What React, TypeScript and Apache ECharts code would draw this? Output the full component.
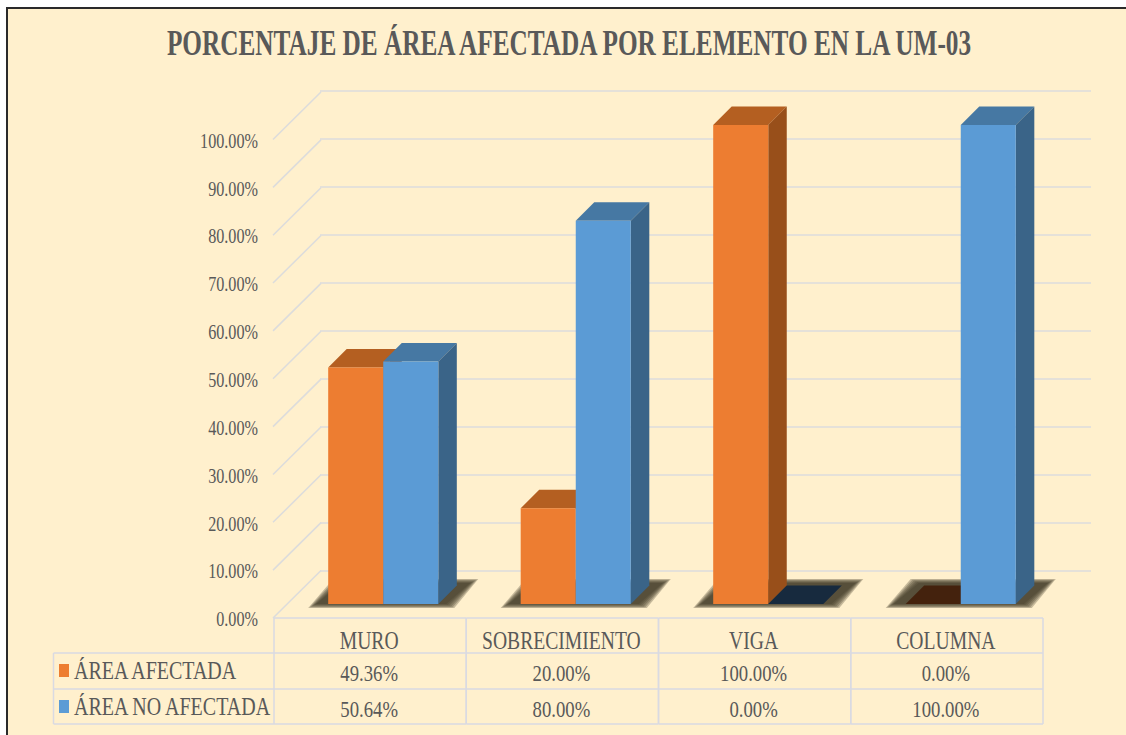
import React, { useEffect, useRef } from "react";
import * as echarts from "echarts";

const chartTitle = "PORCENTAJE DE ÁREA AFECTADA POR ELEMENTO EN LA UM-03";
const categories = ["MURO", "SOBRECIMIENTO", "VIGA", "COLUMNA"];
const seriesNames = ["ÁREA AFECTADA", "ÁREA NO AFECTADA"];
const affected = [49.36, 20, 100, 0];
const unaffected = [50.64, 80, 0, 100];
const yTicks = [0, 10, 20, 30, 40, 50, 60, 70, 80, 90, 100];
const shadowLayers = [4, 3.2, 2.4, 1.6, 0.8, 0];

const ORANGE = { front: "#ED7D31", top: "#B45F21", side: "#984F1A", zero: "#44220D" };
const BLUE = { front: "#5B9BD5", top: "#4678A3", side: "#3A6488", zero: "#172A3E" };
const TEXT = "#595959";
const LINE = "#DCDCDC";
const TABLE = "#D9DAE2";
const FONT = '"Liberation Serif"';
const DEPTH = 18.5;
const WALL = 47;

const pct = (v: number) => v.toFixed(2) + "%";
const label = (text: string, x: number, y: number, size: number, scaleX: number, align = "center") => ({
  type: "text",
  x,
  y,
  scaleX,
  silent: true,
  style: { text, x: 0, y: 0, fill: TEXT, font: `${size}px ${FONT}`, align, verticalAlign: "middle" },
});
const poly = (points: number[][], fill: string) => ({
  type: "polygon",
  shape: { points },
  style: { fill },
  silent: true,
});

function barSeries(values: number[], pal: typeof ORANGE, side: number) {
  return {
    type: "custom",
    xAxisIndex: 1,
    yAxisIndex: 1,
    data: values.map((v, i) => [i, v]),
    encode: { x: 0, y: 1 },
    renderItem: (_: any, api: any) => {
      const i = api.value(0);
      const v = api.value(1);
      const top = api.coord([i, v]);
      const base = api.coord([i, 0]);
      const w = api.size([1, 0])[0] * 0.286;
      const l = side < 0 ? top[0] - w : top[0];
      const r = l + w;
      if (v === 0) {
        return { type: "group", children: [poly([[l, base[1]], [r, base[1]], [r + DEPTH, base[1] - DEPTH], [l + DEPTH, base[1] - DEPTH]], pal.zero)] };
      }
      return {
        type: "group",
        children: [
          poly([[l, top[1]], [r, top[1]], [r + DEPTH, top[1] - DEPTH], [l + DEPTH, top[1] - DEPTH]], pal.top),
          poly([[r, top[1]], [r + DEPTH, top[1] - DEPTH], [r + DEPTH, base[1] - DEPTH], [r, base[1]]], pal.side),
          poly([[l, top[1]], [r, top[1]], [r, base[1]], [l, base[1]]], pal.front),
        ],
      };
    },
  };
}

export default function App() {
  const ref = useRef<HTMLDivElement>(null);
  useEffect(() => {
    const chart = echarts.init(ref.current!, undefined, { renderer: "svg" });
    const hiddenX = (gridIndex: number) => ({ type: "category", gridIndex, data: categories, show: false });
    const hiddenY = (gridIndex: number) => ({ type: "value", gridIndex, min: 0, max: 100, interval: 10, show: false });
    chart.setOption({
      animation: false,
      backgroundColor: "transparent",
      tooltip: { show: false },
      grid: [
        { left: 320, top: 91, width: 771, height: 479.5 },
        { left: 287, top: 125, width: 770, height: 479 },
        { left: 274, top: 139.5, width: 769, height: 478.5 },
      ],
      xAxis: [hiddenX(0), hiddenX(1), hiddenX(2)],
      yAxis: [
        {
          type: "value",
          gridIndex: 0,
          min: 0,
          max: 100,
          interval: 10,
          axisLabel: { show: false },
          axisLine: { show: false },
          axisTick: { show: false },
          splitLine: { show: true, lineStyle: { color: LINE, width: 1.5 } },
        },
        hiddenY(1),
        hiddenY(2),
      ],
      graphic: [
        {
          type: "text",
          x: 569,
          y: 44,
          scaleX: 0.722,
          style: { text: chartTitle, fill: TEXT, font: `bold 35px ${FONT}`, align: "center", verticalAlign: "middle" },
        },
        { type: "rect", x: 59, y: 664, shape: { width: 10, height: 13 }, style: { fill: ORANGE.front } },
        { type: "rect", x: 59, y: 700, shape: { width: 10, height: 13 }, style: { fill: BLUE.front } },
        {
          type: "text", x: 74, y: 671, scaleX: 0.8,
          style: { text: seriesNames[0], fill: TEXT, font: `25px ${FONT}`, align: "left", verticalAlign: "middle" },
        },
        {
          type: "text", x: 74, y: 707, scaleX: 0.8,
          style: { text: seriesNames[1], fill: TEXT, font: `25px ${FONT}`, align: "left", verticalAlign: "middle" },
        },
        ...[653, 689, 724].map((y) => ({
          type: "line",
          shape: { x1: 53.5, y1: y, x2: 274, y2: y },
          style: { stroke: TABLE, lineWidth: 1.5 },
        })),
        { type: "line", shape: { x1: 53.5, y1: 653, x2: 53.5, y2: 724 }, style: { stroke: TABLE, lineWidth: 1.5 } },
      ],
      series: [
        // side wall diagonals and value labels on the front plane
        {
          type: "custom",
          xAxisIndex: 2,
          yAxisIndex: 2,
          data: yTicks.map((t) => [0, t]),
          encode: { x: 0, y: 1 },
          renderItem: (_: any, api: any) => {
            const t = api.value(1);
            const p = api.coord([0, t]);
            const x0 = p[0] - api.size([1, 0])[0] / 2;
            return {
              type: "group",
              children: [
                {
                  type: "line",
                  silent: true,
                  shape: { x1: x0 - 1, y1: p[1], x2: x0 + WALL, y2: p[1] - WALL - 0.5 },
                  style: { stroke: LINE, lineWidth: 1.5 },
                },
                label(pct(t), x0 - 16, p[1] + 1, 21, 0.77, "right"),
              ],
            };
          },
        },
        // data table cells, aligned on the category axis
        {
          type: "custom",
          xAxisIndex: 2,
          yAxisIndex: 2,
          data: categories.map((_, i) => [i, 0]),
          encode: { x: 0, y: 1 },
          renderItem: (_: any, api: any) => {
            const i = api.value(0);
            const p = api.coord([i, 0]);
            const band = api.size([1, 0])[0];
            const l = p[0] - band / 2;
            const r = p[0] + band / 2;
            const ln = (x1: number, y1: number, x2: number, y2: number) => ({
              type: "line",
              silent: true,
              shape: { x1, y1, x2, y2 },
              style: { stroke: TABLE, lineWidth: 1.5 },
            });
            return {
              type: "group",
              children: [
                ln(l, p[1], r, p[1]),
                ln(l, 653, r, 653),
                ln(l, 689, r, 689),
                ln(l, 724, r, 724),
                ln(l, p[1], l, 724),
                ln(r, p[1], r, 724),
                label(categories[i], p[0] - 1, 641, 25, 0.785),
                label(pct(affected[i]), p[0] - 1, 673, 24, 0.78),
                label(pct(unaffected[i]), p[0] - 1, 709, 24, 0.78),
              ],
            };
          },
        },
        // soft contact shadows under each bar pair
        {
          type: "custom",
          xAxisIndex: 1,
          yAxisIndex: 1,
          data: categories.map((_, i) => [i, 0]),
          encode: { x: 0, y: 1 },
          renderItem: (_: any, api: any) => {
            const p = api.coord([api.value(0), 0]);
            const w = api.size([1, 0])[0] * 0.286;
            const l = p[0] - w;
            const r = p[0] + w;
            const y = p[1];
            return {
              type: "group",
              children: shadowLayers.map((e) => ({
                type: "polygon",
                silent: true,
                shape: {
                  points: [
                    [l - 12 - e * 2, y + e],
                    [l + 13 - e * 2, y - 21 - e],
                    [r + 32 + e * 2, y - 21 - e],
                    [r + 8 + e * 2, y + e],
                  ],
                },
                style: { fill: "rgba(66,58,40,0.3)" },
              })),
            };
          },
        },
        barSeries(affected, ORANGE, -1),
        barSeries(unaffected, BLUE, 1),
      ],
    });
    return () => chart.dispose();
  }, []);

  return (
    <div style={{ position: "fixed", left: 0, top: 0, width: 1126, height: 735, background: "#FFFFFF", overflow: "hidden" }}>
      <div
        style={{
          position: "absolute",
          left: 6,
          top: 7,
          right: 0,
          bottom: 0,
          background: "#FFF0CD",
          borderLeft: "2px solid #2A2A2A",
          borderTop: "2px solid #2A2A2A",
        }}
      />
      <div ref={ref} style={{ position: "absolute", left: 0, top: 0, width: 1126, height: 735 }} />
    </div>
  );
}
